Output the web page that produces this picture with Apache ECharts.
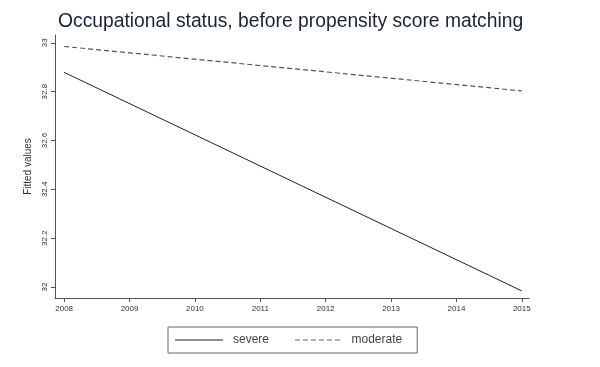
<!DOCTYPE html>
<html><head><meta charset="utf-8">
<script src="https://cdn.jsdelivr.net/npm/echarts@6/dist/echarts.min.js"></script>
<style>html,body{margin:0;padding:0;background:#fff}#c{width:600px;height:367px}</style>
</head><body><div id="c"></div>
<script>
const years = [2008, 2015];
const severe = [32.879, 31.984];
const moderate = [32.985, 32.803];
const xTicks = [2008, 2009, 2010, 2011, 2012, 2013, 2014, 2015];
const yTicks = [32, 32.2, 32.4, 32.6, 32.8, 33];
const yTickLabels = ['32', '32.2', '32.4', '32.6', '32.8', '33'];

const solidIcon = 'path://M0,0H48V1H0Z';
let dashed = '';
for (let x = 0; x < 48; x += 8) dashed += 'M' + x + ',0H' + (x + 5) + 'V1H' + x + 'Z';
const dashedIcon = 'path://' + dashed;

const chart = echarts.init(document.getElementById('c'));
chart.setOption({
  backgroundColor: '#fff',
  animation: false,
  title: {
    text: 'Occupational status, before propensity score matching',
    left: 53, top: 7,
    textStyle: {fontFamily: 'Liberation Sans', fontSize: 19.3, fontWeight: 'normal', color: '#1c2433'}
  },
  grid: {left: 55, right: 71, top: 35, bottom: 69},
  xAxis: {
    type: 'value', min: 2007.86, max: 2015.11,
    axisLine: {show: true, lineStyle: {color: '#555', width: 1}},
    axisTick: {show: true, length: 4, customValues: xTicks, lineStyle: {color: '#555'}},
    axisLabel: {customValues: xTicks, fontSize: 8, color: '#333', margin: 7, fontFamily: 'Liberation Sans',
      formatter: v => String(Math.round(v))},
    splitLine: {show: false}
  },
  yAxis: {
    type: 'value', min: 31.955, max: 33.032,
    name: 'Fitted values', nameLocation: 'middle', nameGap: 19,
    nameTextStyle: {fontSize: 10, color: '#333', fontFamily: 'Liberation Sans'},
    axisLine: {show: true, lineStyle: {color: '#555', width: 1}},
    axisTick: {show: true, length: 4, customValues: yTicks, lineStyle: {color: '#555'}},
    axisLabel: {customValues: yTicks, rotate: 90, fontSize: 8, color: '#333', margin: 6,
      fontFamily: 'Liberation Sans',
      formatter: v => { const i = yTicks.findIndex(t => Math.abs(t - v) < 1e-6); return i >= 0 ? yTickLabels[i] : ''; }},
    splitLine: {show: false}
  },
  legend: {
    bottom: 14, left: 168,
    itemWidth: 48, itemHeight: 1, itemGap: 26,
    padding: [7, 15, 7, 7],
    borderColor: '#666', borderWidth: 1,
    textStyle: {fontSize: 12, color: '#444', fontFamily: 'Liberation Sans', padding: [0, 0, 0, 5]},
    data: [
      {name: 'severe', icon: solidIcon, itemStyle: {color: '#222'}},
      {name: 'moderate', icon: dashedIcon, itemStyle: {color: '#666'}}
    ]
  },
  series: [
    {name: 'severe', type: 'line', symbol: 'none', data: years.map((y, i) => [y, severe[i]]),
      lineStyle: {color: '#222', width: 1}, itemStyle: {color: '#222'}},
    {name: 'moderate', type: 'line', symbol: 'none', data: years.map((y, i) => [y, moderate[i]]),
      lineStyle: {color: '#555', width: 1.2, type: [5, 3]}, itemStyle: {color: '#555'}}
  ]
});
</script></body></html>
